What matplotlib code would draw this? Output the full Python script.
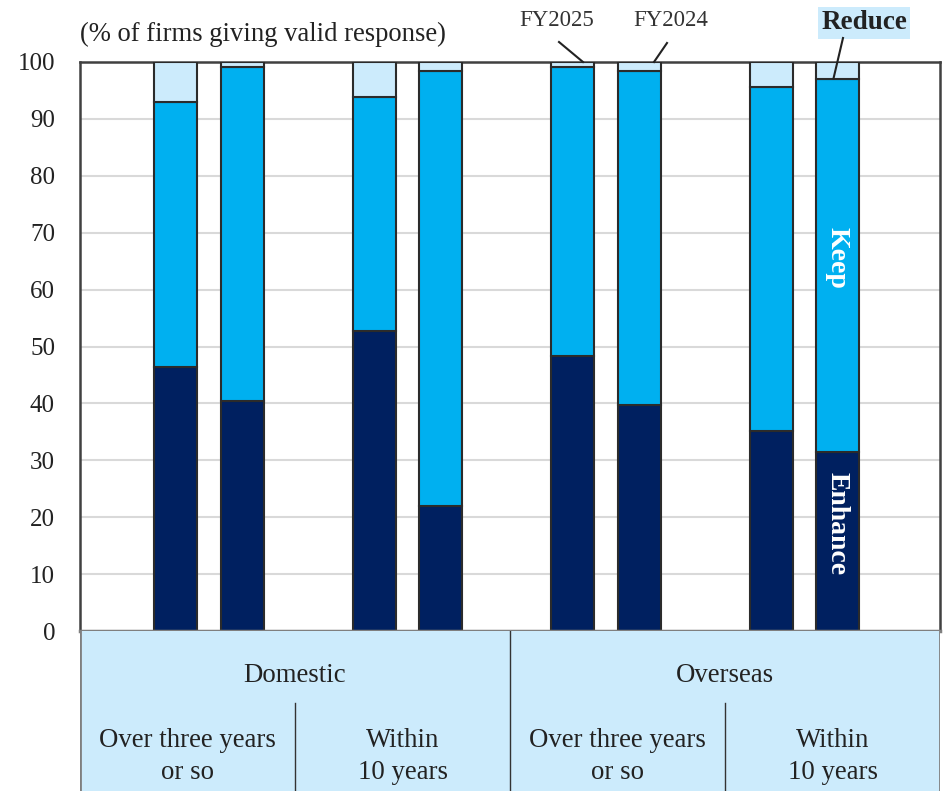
import matplotlib
matplotlib.use("Agg")
import matplotlib.pyplot as plt
from matplotlib.patches import Rectangle

plt.rcParams['font.family'] = ['Liberation Serif', 'DejaVu Serif']

# Share of firms (%) by stance on capacity, FY2025 / FY2024 pairs
groups = ["Domestic", "Overseas"]
horizons = ["Over three years\nor so", "Within\n10 years"]
years = ["FY2025", "FY2024"]
enhance = [46.4, 40.4, 52.7, 22.0, 48.3, 39.7, 35.1, 31.5]
keep = [46.5, 58.8, 41.1, 76.5, 50.8, 58.8, 60.5, 65.6]
reduce_ = [round(100 - e - k, 1) for e, k in zip(enhance, keep)]
positions = [1, 2, 4, 5, 7, 8, 10, 11]

c_enh = "#002060"
c_keep = "#00B0F0"
c_red = "#CCEBFC"
edge = "#2b2b2b"

fig = plt.figure(figsize=(9.44, 7.91), dpi=100)
L, R = 80 / 944, 940 / 944
B, T = 1 - 631 / 791, 1 - 62 / 791
ax = fig.add_axes([L, B, R - L, T - B])

bw = 0.65
ax.bar(positions, enhance, width=bw, color=c_enh, edgecolor=edge, linewidth=1.5, zorder=3)
ax.bar(positions, keep, width=bw, bottom=enhance, color=c_keep, edgecolor=edge, linewidth=1.5, zorder=3)
bottoms = [e + k for e, k in zip(enhance, keep)]
ax.bar(positions, reduce_, width=bw, bottom=bottoms, color=c_red, edgecolor=edge, linewidth=1.5, zorder=3)

ax.set_xlim(-0.45, 12.55)
ax.set_ylim(0, 100)
ax.set_yticks(range(0, 101, 10))
ax.set_xticks([])
ax.tick_params(axis='y', length=0, pad=18, labelsize=18, colors="#222222")
ax.yaxis.grid(True, color="#d9d9d9", linewidth=1.5, zorder=0)
ax.set_axisbelow(True)
for s in ["left", "top", "right"]:
    ax.spines[s].set_color("#404040")
    ax.spines[s].set_linewidth(1.8)
ax.spines["bottom"].set_color("#7f7f7f")
ax.spines["bottom"].set_linewidth(2.5)
ax.spines["bottom"].set_zorder(5)

fig.text(80 / 944, 1 - 34 / 791, "(% of firms giving valid response)", fontsize=19.2,
         ha="left", va="center", color="#222222")

# In-bar series labels
ax.text(positions[-1], 100 - (258 - 62) / 5.69, "Keep", rotation=-90, color="white",
        fontsize=20, fontweight="bold", ha="center", va="center", zorder=6)
ax.text(positions[-1], 100 - (524 - 62) / 5.69, "Enhance", rotation=-90, color="white",
        fontsize=20, fontweight="bold", ha="center", va="center", zorder=6)


def px_to_data(px, py):
    """Convert figure pixel position (top-left origin) to data coordinates."""
    x0, x1 = ax.get_xlim()
    xd = x0 + (px - 80) / 860 * (x1 - x0)
    yd = (631 - py) / 569 * 100
    return xd, yd


# Year and series callouts with leader lines
callouts = [
    (years[0], (557, 21), (559, 42), (583, 62)),
    (years[1], (671, 21), (667, 43), (654, 62)),
]
for label, tpos, p0, p1 in callouts:
    tx, ty = px_to_data(*tpos)
    ax.text(tx, ty, label, ha="center", va="center", fontsize=16.5, color="#333333",
            clip_on=False)
    a, b = px_to_data(*p0), px_to_data(*p1)
    ax.plot([a[0], b[0]], [a[1], b[1]], color="#222222", lw=1.5, clip_on=False, zorder=6)

rx, ry = px_to_data(864, 23)
ax.text(rx, ry, "Reduce", ha="center", va="center", fontsize=19.5, fontweight="bold",
        color="#222222", clip_on=False, zorder=6,
        bbox=dict(boxstyle="square,pad=0.12", fc=c_red, ec="none"))
a = px_to_data(843, 38)
ax.plot([a[0], 10.94], [a[1], bottoms[-1]], color="#222222", lw=1.5, clip_on=False, zorder=6)

# Category table beneath the bars
tab = fig.add_axes([L, 0, R - L, B])
tab.set_xlim(0, 1)
tab.set_ylim(0, 1)
tab.axis("off")
tab.add_patch(Rectangle((0, 0), 1, 1, facecolor=c_red, edgecolor="none"))
tab.plot([0, 0], [0, 1], color="#7f7f7f", lw=2)
tab.plot([1, 1], [0, 1], color="#7f7f7f", lw=2)
tab.plot([0.5, 0.5], [0, 1], color="#333333", lw=1)
tab.plot([0.25, 0.25], [0, 0.55], color="#333333", lw=1)
tab.plot([0.75, 0.75], [0, 0.55], color="#333333", lw=1)
for i, g in enumerate(groups):
    tab.text(0.25 + 0.5 * i, 0.725, g, ha="center", va="center", fontsize=19.3, color="#222222")
    for j, h in enumerate(horizons):
        xc = 0.125 + 0.5 * i + 0.25 * j
        tab.text(xc, 0.215, h, ha="center", va="center", fontsize=19.3, color="#222222",
                 linespacing=1.38)

fig.savefig("out.png", dpi=100)
